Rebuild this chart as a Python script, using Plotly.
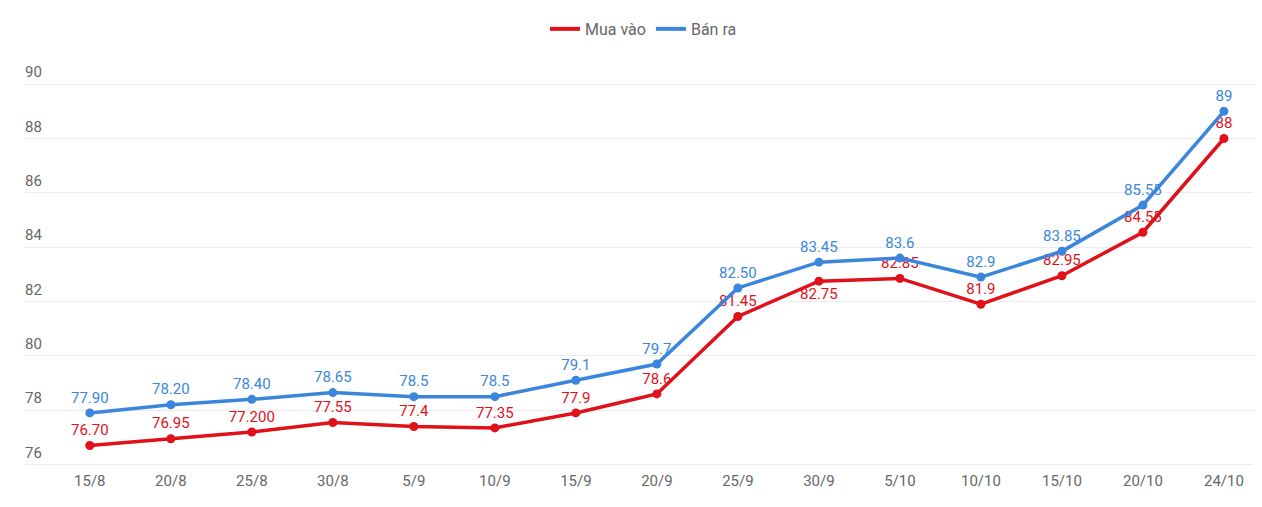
import plotly.graph_objects as go

dates = ["15/8", "20/8", "25/8", "30/8", "5/9", "10/9", "15/9", "20/9",
         "25/9", "30/9", "5/10", "10/10", "15/10", "20/10", "24/10"]

mua_vao = [76.70, 76.95, 77.20, 77.55, 77.4, 77.35, 77.9, 78.6,
           81.45, 82.75, 82.85, 81.9, 82.95, 84.55, 88]
mua_vao_labels = ["76.70", "76.95", "77.200", "77.55", "77.4", "77.35", "77.9", "78.6",
                  "81.45", "82.75", "82.85", "81.9", "82.95", "84.55", "88"]

ban_ra = [77.90, 78.20, 78.40, 78.65, 78.5, 78.5, 79.1, 79.7,
          82.50, 83.45, 83.6, 82.9, 83.85, 85.55, 89]
ban_ra_labels = ["77.90", "78.20", "78.40", "78.65", "78.5", "78.5", "79.1", "79.7",
                 "82.50", "83.45", "83.6", "82.9", "83.85", "85.55", "89"]

y_ticks = [76, 78, 80, 82, 84, 86, 88, 90]

RED = "#e01119"
BLUE = "#3a86dc"
FONT = "Roboto"

x_idx = list(range(len(dates)))

# red labels sit above the points, except one that is pushed below
red_pos = ["top center"] * len(dates)
red_pos[9] = "bottom center"

fig = go.Figure()

fig.add_trace(go.Scatter(
    x=x_idx, y=mua_vao, name="Mua vào", mode="lines+markers+text",
    line=dict(color=RED, width=3.5), marker=dict(color=RED, size=9),
    text=mua_vao_labels, textposition=red_pos,
    textfont=dict(color=RED, size=15, family=FONT),
    hoverinfo="skip", showlegend=False))

fig.add_trace(go.Scatter(
    x=x_idx, y=ban_ra, name="Bán ra", mode="lines+markers+text",
    line=dict(color=BLUE, width=3.5), marker=dict(color=BLUE, size=9),
    text=ban_ra_labels, textposition="top center",
    textfont=dict(color=BLUE, size=15, family=FONT),
    hoverinfo="skip", showlegend=False))

# legend entries drawn as plain line swatches
for name, col in [("Mua vào", RED), ("Bán ra", BLUE)]:
    fig.add_trace(go.Scatter(x=[None], y=[None], name=name, mode="lines",
                             line=dict(color=col, width=4), hoverinfo="skip"))

fig.update_xaxes(
    range=[-0.8, 14.47], tickmode="array", tickvals=x_idx, ticktext=dates,
    showgrid=False, zeroline=False, showline=False,
    tickfont=dict(size=15, color="#666666", family=FONT))

fig.update_yaxes(
    range=[75.8, 91], tickmode="array", tickvals=y_ticks,
    showgrid=True, gridcolor="#ececec", gridwidth=1, zeroline=False, showline=False,
    ticklabelposition="inside", ticklabelshift=-12, ticklabelstandoff=-3,
    ticklabeloverflow="allow",
    tickfont=dict(size=15, color="#666666", family=FONT))

# page body has an 8px margin, so the figure is sized a little smaller
fig.update_layout(
    width=1254, height=499,
    margin=dict(l=17, r=0, t=49, b=37, autoexpand=False),
    paper_bgcolor="white", plot_bgcolor="white",
    font=dict(family=FONT),
    showlegend=True,
    legend=dict(orientation="h", x=0.5, xanchor="center",
                yref="container", y=0.958, yanchor="middle",
                itemwidth=30, font=dict(size=16, color="#666666", family=FONT)),
)

fig.write_html("out.html")
